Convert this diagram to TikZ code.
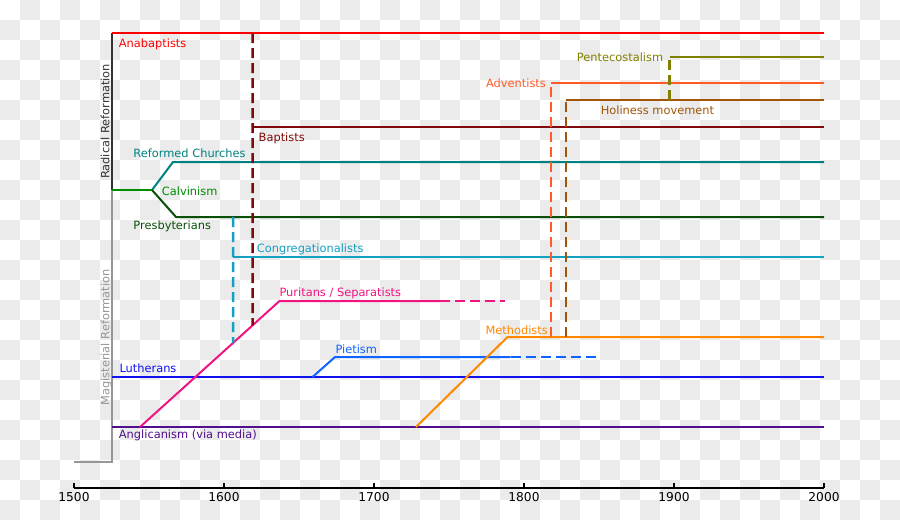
\documentclass[tikz,border=0pt]{standalone}
\usepackage{fontspec}
\setmainfont{DejaVu Sans}
\usepackage{xcolor}
\usepackage{tikz}
\usetikzlibrary{calc}

\definecolor{checker}{RGB}{235,235,235}
\definecolor{radical}{RGB}{51,51,51}
\definecolor{magist}{RGB}{150,150,150}
\definecolor{anabap}{RGB}{255,0,0}
\definecolor{baptist}{RGB}{128,10,10}
\definecolor{pentec}{RGB}{128,128,0}
\definecolor{advent}{RGB}{255,90,40}
\definecolor{holiness}{RGB}{160,85,10}
\definecolor{reformed}{RGB}{0,128,128}
\definecolor{calvin}{RGB}{0,140,0}
\definecolor{presby}{RGB}{10,80,10}
\definecolor{congreg}{RGB}{20,160,195}
\definecolor{puritan}{RGB}{240,20,130}
\definecolor{method}{RGB}{255,136,0}
\definecolor{pietism}{RGB}{16,100,255}
\definecolor{luther}{RGB}{16,16,240}
\definecolor{anglican}{RGB}{80,16,140}

\begin{document}
\begin{tikzpicture}[
    x=1.5pt, y=-1pt,
    font=\fontsize{11.4}{13.5}\selectfont,
    stream/.style={line width=2pt},
    offshoot/.style={line width=2.5pt, dash pattern=on 10pt off 5pt},
    tag/.style={anchor=base west, inner sep=0pt},
    rtag/.style={anchor=base east, inner sep=0pt},
    side/.style={rotate=90, anchor=base, inner sep=0pt},
    year/.style={anchor=base, inner sep=0pt, font=\fontsize{12.2}{14}\selectfont},
  ]

  % ---------------- Background ----------------
  \useasboundingbox (0pt,0pt) rectangle (900pt,-520pt);
  \fill[white] (0pt,0pt) rectangle (900pt,-520pt);
  \foreach \i in {0,...,44}
    \foreach \j in {0,...,25}{
      \pgfmathparse{int(mod(\i+\j,2))}
      \ifnum\pgfmathresult=1
        \fill[checker] ({20pt*\i},{-20pt*\j}) rectangle ++(20pt,-20pt);
      \fi
    }

  % x is the year, y is counted downwards
  \begin{scope}[xshift=-2176pt]

  % ---------------- Junctions ----------------
  \coordinate (root)  at (1525.3,33);
  \coordinate (split) at (1525.3,190);
  \coordinate (foot)  at (1525.3,462);
  \coordinate (calv)  at (1552,190);
  \coordinate (refK)  at (1566,162);
  \coordinate (presK) at (1568,217);
  \coordinate (purS)  at (1544,427);
  \coordinate (purK)  at (1637,301);
  \coordinate (pietS) at (1659,377);
  \coordinate (pietK) at (1674,357);
  \coordinate (methS) at (1728,427);
  \coordinate (methK) at (1789,337);

  % ---------------- Brackets ----------------
  \draw[radical, line width=2pt] (root) -- (split);
  \draw[magist, line width=2pt] (split) -- (foot) -- (1500,462);

  % ---------------- Streams ----------------
  \draw[stream, anabap] (root) -- (2000,33);
  \draw[stream, calvin] (split) -- (calv);
  \draw[stream, reformed] (calv) -- (refK) -- (2000,162);
  \draw[stream, presby] (calv) -- (presK) -- (2000,217);
  \draw[stream, luther] (1525.3,377) -- (2000,377);
  \draw[stream, anglican] (1525.3,427) -- (2000,427);
  \draw[stream, puritan] (purS) -- (purK) -- (1744,301);
  \draw[offshoot, puritan] (1744,301) -- (1787,301);
  \draw[stream, pietism] (pietS) -- (pietK) -- (1791,357);
  \draw[offshoot, pietism] (1791,357) -- (1848,357);
  \draw[stream, method] (methS) -- (methK) -- (2000,337);
  \draw[stream, baptist] (1619,127) -- (2000,127);
  \draw[stream, congreg] (1606,257) -- (2000,257);
  \draw[stream, advent] (1818,83) -- (2000,83);
  \draw[stream, holiness] (1828,100) -- (2000,100);
  \draw[stream, pentec] (1897,57) -- (2000,57);

  % ---------------- Offshoots ----------------
  \draw[offshoot, baptist] (1619,33) -- ($(purS)!{75/93}!(purK)$);
  \draw[offshoot, congreg] (1606,217) -- ($(purS)!{62/93}!(purK)$);
  \draw[offshoot, advent] (1818,337) -- (1818,83);
  \draw[offshoot, holiness] (1828,337) -- (1828,100);
  \draw[offshoot, pentec] (1897,100) -- (1897,57);

  % ---------------- Labels ----------------
  \node[tag, anabap]    (lAna) at (1529.8,47.3)  {Anabaptists};
  \node[rtag, pentec]   (lPen) at (1892.9,61.3)  {Pentecostalism};
  \node[rtag, advent]   (lAdv) at (1814.7,87.7)  {Adventists};
  \node[tag, holiness]  (lHol) at (1851.1,114)   {Holiness movement};
  \node[tag, baptist]   (lBap) at (1623,141)     {Baptists};
  \node[tag, reformed]  (lRef) at (1539.5,157.7) {Reformed Churches};
  \node[tag, calvin]    (lCal) at (1558.5,195.2) {Calvinism};
  \node[tag, presby]    (lPre) at (1539.5,229.5) {Presbyterians};
  \node[tag, congreg]   (lCon) at (1621.8,252.7) {Congregationalists};
  \node[tag, puritan]   (lPur) at (1636.9,296)   {Puritans / Separatists};
  \node[rtag, method]   (lMet) at (1816,334)     {Methodists};
  \node[tag, pietism]   (lPie) at (1674.2,353.3) {Pietism};
  \node[tag, luther]    (lLut) at (1530.2,372)   {Lutherans};
  \node[tag, anglican]  (lAng) at (1529.8,438.7) {Anglicanism (via media)};
  \node[side, radical]  (lRad) at (1523.5,121.5) {Radical Reformation};
  \node[side, magist]   (lMag) at (1523.5,337.5) {Magisterial Reformation};

  % ---------------- Time axis ----------------
  \draw[line width=2pt] (1500,487.5) -- (2000,487.5);
  \foreach \yr in {1500,1600,...,2000}{
    \draw[line width=1.5pt] (\yr,487.5) -- (\yr,483);
    \node[year] (t\yr) at (\yr,501) {\yr};
  }

  \end{scope}
\end{tikzpicture}
\end{document}
